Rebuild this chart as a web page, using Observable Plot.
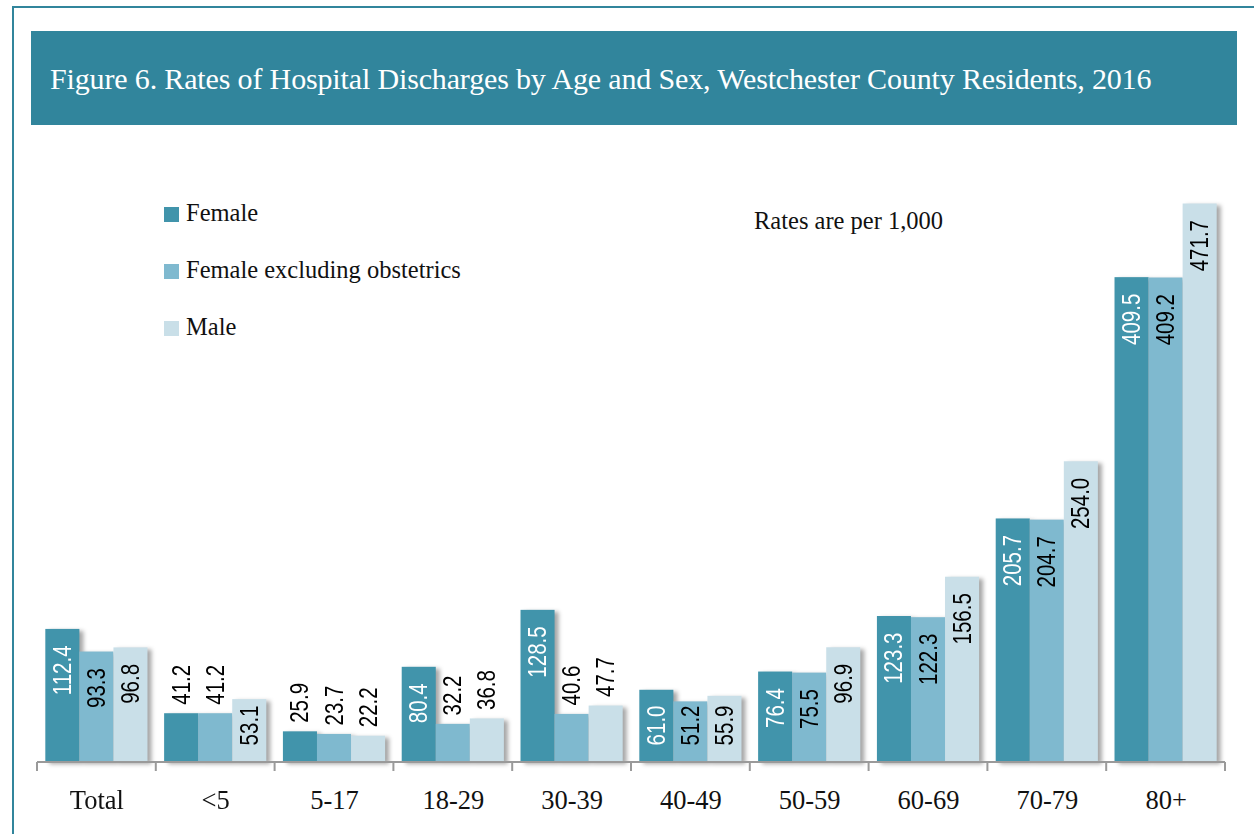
<!DOCTYPE html>
<html>
<head>
<meta charset="utf-8">
<script src="https://cdn.jsdelivr.net/npm/d3@7"></script>
<script src="https://cdn.jsdelivr.net/npm/@observablehq/plot@0.6"></script>
<style>
  html, body { margin: 0; padding: 0; width: 1254px; height: 834px; overflow: hidden; background: #fff; }
  .frame { position: absolute; left: 12px; top: 6px; width: 1400px; height: 1000px; border: 2px solid #31859c; box-sizing: border-box; }
  .titlebar { position: absolute; left: 31px; top: 31px; width: 1206px; height: 94px; background: #31859c; }
  .title { position: absolute; left: 50px; top: 62px; color: #fff; font-family: "Liberation Serif", serif; font-size: 30px; letter-spacing: -0.15px; white-space: nowrap; }
  .legend-item { position: absolute; left: 164px; font-family: "Liberation Serif", serif; font-size: 24.5px; color: #111; white-space: nowrap; }
  .legend-item .sw { position: absolute; left: 0; top: 8px; width: 15px; height: 15px; }
  .legend-item .lb { position: absolute; left: 22px; top: 0; }
  .note { position: absolute; left: 754px; top: 207px; font-family: "Liberation Serif", serif; font-size: 24.5px; color: #111; white-space: nowrap; }
  #chart { position: absolute; left: 0; top: 140px; }
</style>
</head>
<body>
<div class="frame"></div>
<div class="titlebar"></div>
<div class="title">Figure 6. Rates of Hospital Discharges by Age and Sex, Westchester County Residents, 2016</div>
<div id="legend"></div>
<div class="note">Rates are per 1,000</div>
<div id="chart"></div>
<script>
const categories = ["Total", "<5", "5-17", "18-29", "30-39", "40-49", "50-59", "60-69", "70-79", "80+"];
const series = ["Female", "Female excluding obstetrics", "Male"];
const female = [112.4, 41.2, 25.9, 80.4, 128.5, 61.0, 76.4, 123.3, 205.7, 409.5];
const femaleExObstetrics = [93.3, 41.2, 23.7, 32.2, 40.6, 51.2, 75.5, 122.3, 204.7, 409.2];
const male = [96.8, 53.1, 22.2, 36.8, 47.7, 55.9, 96.9, 156.5, 254.0, 471.7];
const colors = ["#4194ab", "#7fb9cf", "#c9dfe8"];

const valuesBySeries = [female, femaleExObstetrics, male];
const rows = [];
categories.forEach((c, i) => {
  series.forEach((s, j) => rows.push({category: c, series: s, value: valuesBySeries[j][i]}));
});

// legend
const legend = document.getElementById("legend");
series.forEach((s, j) => {
  const item = document.createElement("div");
  item.className = "legend-item";
  item.style.top = (199 + j * 57) + "px";
  item.innerHTML = `<span class="sw" style="background:${colors[j]}"></span><span class="lb"></span>`;
  item.querySelector(".lb").textContent = s;
  legend.appendChild(item);
});

const W = 1254, H = 694, mt = 30, mb = 72, ml = 37, mr = 29;
const yMax = 500;
const k = (H - mt - mb) / yMax;          // px per unit
const insideThreshold = 50;
const labelPad = 16, minLabelBase = 57;
const inside = rows.filter(d => d.value >= insideThreshold);
const outside = rows.filter(d => d.value < insideThreshold);
const labelFont = "'Liberation Sans', Arial, sans-serif";

const plot = Plot.plot({
  width: W, height: H,
  marginTop: mt, marginBottom: mb, marginLeft: ml, marginRight: mr,
  style: {fontFamily: "'Liberation Serif', serif", background: "transparent", overflow: "visible"},
  fx: {domain: categories, paddingInner: 0.14, paddingOuter: 0.07, round: false, label: null, axis: null},
  x: {domain: series, padding: 0, round: false, axis: null},
  y: {domain: [0, yMax], axis: null},
  color: {domain: series, range: colors},
  marks: [
    Plot.barY(rows, {fx: "category", x: "series", y: "value", fill: "series"}),
    Plot.text(inside, {
      fx: "category", x: "series",
      y: d => Math.max(d.value, (minLabelBase + labelPad) / k),
      text: d => d.value.toFixed(1),
      rotate: -90, textAnchor: "end", dy: labelPad,
      fill: d => d.series === "Female" ? "white" : "black",
      fontSize: 25, fontFamily: labelFont
    }),
    Plot.text(outside, {
      fx: "category", x: "series", y: "value",
      text: d => d.value.toFixed(1),
      rotate: -90, textAnchor: "start", dy: -9,
      fill: "black", fontSize: 25, fontFamily: labelFont
    }),
    Plot.axisFx({anchor: "bottom", tickSize: 0, tickPadding: 28, fontSize: 26.5, fontFamily: "'Liberation Serif', serif", fill: "#111", label: null})
  ]
});

document.getElementById("chart").appendChild(plot);

const svg = d3.select(plot);
svg.selectAll('g[aria-label="bar"]').style("filter", "drop-shadow(4px 2px 2px rgba(0,0,0,0.35))");
// condensed look for the value labels
svg.selectAll('g[aria-label="text"] text').each(function () {
  const t = this.getAttribute("transform");
  if (t && t.includes("rotate")) this.setAttribute("transform", t + " scale(0.82,1)");
});

const fx = plot.scale("fx");
const y = plot.scale("y");
const y0 = y.apply(0);
const x0 = fx.range[0], x1 = fx.range[1];
const step = (x1 - x0) / categories.length;
let p = `M${x0},${y0}H${x1}`;
for (let i = 0; i <= categories.length; i++) p += `M${x0 + i * step},${y0}V${y0 + 9}`;
svg.append("path").attr("d", p).attr("stroke", "#9a9a9a").attr("stroke-width", 2).attr("fill", "none");
</script>
</body>
</html>
